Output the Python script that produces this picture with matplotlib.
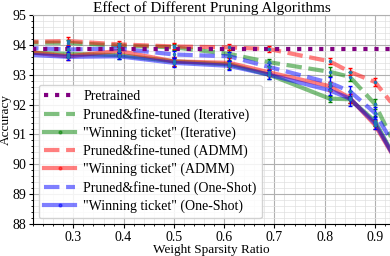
import numpy as np
import matplotlib.pyplot as plt
from matplotlib.ticker import MultipleLocator

plt.rcParams['font.family'] = ['Liberation Serif', 'DejaVu Serif']

# sparsity ratios of the pruned models
sparsity = [0.2, 0.29, 0.39, 0.5, 0.61, 0.69, 0.81, 0.85, 0.9, 0.95]
pretrained = 93.86

# mean accuracy of each method
pf_iter = [94.08, 94.07, 93.98, 93.92, 93.70, 93.42, 93.10, 92.93, 92.02, 90.3]
wt_iter = [93.75, 93.70, 93.66, 93.45, 93.35, 93.00, 92.20, 92.18, 91.45, 89.9]
pf_admm = [94.10, 94.13, 94.02, 93.95, 93.92, 93.86, 93.45, 93.10, 92.76, 91.7]
wt_admm = [93.78, 93.62, 93.80, 93.45, 93.40, 93.08, 92.62, 92.22, 91.32, 89.9]
pf_one = [93.90, 93.85, 93.88, 93.68, 93.62, 93.26, 92.73, 92.45, 91.72, 90.3]
wt_one = [93.68, 93.60, 93.62, 93.40, 93.30, 93.00, 92.48, 92.20, 91.38, 89.9]

# spread across runs
err_pf_iter = [0.08, 0.10, 0.10, 0.10, 0.12, 0.12, 0.15, 0.15, 0.18, 0.2]
err_wt_iter = [0.10, 0.12, 0.12, 0.15, 0.15, 0.15, 0.10, 0.12, 0.18, 0.2]
err_pf_admm = [0.08, 0.12, 0.10, 0.10, 0.10, 0.10, 0.10, 0.12, 0.12, 0.2]
err_wt_admm = [0.10, 0.12, 0.12, 0.15, 0.15, 0.12, 0.15, 0.15, 0.15, 0.2]
err_pf_one = [0.08, 0.10, 0.10, 0.12, 0.15, 0.15, 0.20, 0.18, 0.20, 0.2]
err_wt_one = [0.10, 0.10, 0.10, 0.15, 0.15, 0.15, 0.15, 0.25, 0.20, 0.2]

fig, ax = plt.subplots(figsize=(3.9, 2.56), dpi=100)
fig.subplots_adjust(left=0.085, right=1.0, top=0.941, bottom=0.125)

ax.plot([0.1, 1.0], [pretrained, pretrained], ':', color='purple', lw=3,
        label='Pretrained', zorder=3)

series = [
    (pf_iter, err_pf_iter, '--', 'g', 'Pruned&fine-tuned (Iterative)'),
    (wt_iter, err_wt_iter, '.-', 'g', '"Winning ticket" (Iterative)'),
    (pf_admm, err_pf_admm, '--', 'r', 'Pruned&fine-tuned (ADMM)'),
    (wt_admm, err_wt_admm, '.-', 'r', '"Winning ticket" (ADMM)'),
    (pf_one, err_pf_one, '--', 'b', 'Pruned&fine-tuned (One-Shot)'),
    (wt_one, err_wt_one, '.-', 'b', '"Winning ticket" (One-Shot)'),
]
for y, e, fmt, c, lab in series:
    ax.plot(sparsity, y, fmt, color=c, alpha=0.5, lw=3, ms=4, label=lab)
    ax.errorbar(sparsity, y, yerr=e, fmt='.', color='tab:blue', ms=3,
                ecolor=c, elinewidth=1, capsize=1.5, zorder=4)

ax.set_xlim(0.22, 0.93)
ax.set_ylim(88, 95)
ax.xaxis.set_major_locator(MultipleLocator(0.1))
ax.xaxis.set_minor_locator(MultipleLocator(0.02))
ax.yaxis.set_major_locator(MultipleLocator(1))
ax.yaxis.set_minor_locator(MultipleLocator(0.2))
ax.grid(which='major', color='#b0b0b0', lw=0.8)
ax.grid(which='minor', color='#e0e0e0', lw=0.5)
ax.set_axisbelow(True)
for s in ['top', 'right']:
    ax.spines[s].set_color('#b0b0b0')
ax.tick_params(labelsize=10, length=3, pad=2)
ax.tick_params(which='minor', length=1.5)

ax.set_title('Effect of Different Pruning Algorithms', fontsize=11, pad=1)
ax.set_xlabel('Weight Sparsity Ratio', fontsize=9.5, labelpad=0)
ax.set_ylabel('Accuracy', fontsize=9.5, labelpad=0)
ax.legend(loc='lower left', fontsize=10, numpoints=1, handlelength=2.2,
          labelspacing=0.33, handletextpad=0.6, borderaxespad=0.4,
          framealpha=0.85)

fig.savefig('out.png', dpi=100)
